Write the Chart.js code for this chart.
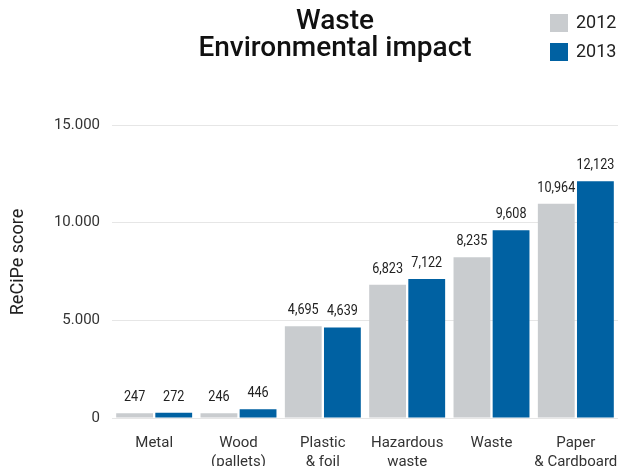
<!DOCTYPE html>
<html><head><meta charset="utf-8">
<script src="https://cdn.jsdelivr.net/npm/chart.js@4.4.1/dist/chart.umd.min.js"></script>
<style>html,body{margin:0;padding:0;background:#fff}#wrap{width:623px;height:466px}</style>
</head><body><div id="wrap"><canvas id="c" width="623" height="466"></canvas></div>
<script>
const categories = [['Metal'], ['Wood', '(pallets)'], ['Plastic', '& foil'], ['Hazardous', 'waste'], ['Waste'], ['Paper', '& Cardboard']];
const values2012 = [247, 246, 4695, 6823, 8235, 10964];
const values2013 = [272, 446, 4639, 7122, 9608, 12123];
const seriesNames = ['2012', '2013'];
const yTicks = [0, 5000, 10000, 15000];
const yTickLabels = ['0', '5.000', '10.000', '15.000'];
const titleLines = ['Waste', 'Environmental impact'];
const yTitle = 'ReCiPe score';

const GRAY = '#c9cccf', BLUE = '#0061a2';
const NUM_FONT = 'Roboto, sans-serif';

const decor = {
  id: 'decor',
  afterDatasetsDraw(chart) {
    const ctx = chart.ctx;
    chart.data.datasets.forEach((ds, i) => {
      chart.getDatasetMeta(i).data.forEach((el, j) => {
        ctx.save();
        ctx.font = '15px ' + NUM_FONT;
        ctx.fillStyle = '#222';
        ctx.textAlign = 'center';
        ctx.textBaseline = 'alphabetic';
        ctx.translate(el.x, el.y - 12);
        ctx.scale(0.84, 1);
        ctx.fillText(ds.data[j].toLocaleString('en-US'), 0, 0);
        ctx.restore();
      });
    });
  },
  afterDraw(chart) {
    const ctx = chart.ctx;
    ctx.save();
    ctx.fillStyle = '#111';
    ctx.font = '500 28px Roboto, sans-serif';
    ctx.textAlign = 'center';
    ctx.textBaseline = 'alphabetic';
    ctx.fillText(titleLines[0], 335, 29);
    ctx.fillText(titleLines[1], 335, 56);
    ctx.textAlign = 'left';
    ctx.font = '18px Roboto, sans-serif';
    chart.data.datasets.forEach((ds, i) => {
      const y = 14 + i * 29;
      ctx.fillStyle = ds.backgroundColor;
      ctx.fillRect(550, y, 18, 18);
      ctx.fillStyle = '#222';
      ctx.textBaseline = 'middle';
      ctx.fillText(ds.label, 576, y + 9.5);
    });
    ctx.translate(18, 262);
    ctx.rotate(-Math.PI / 2);
    ctx.textAlign = 'center';
    ctx.textBaseline = 'middle';
    ctx.font = '18px Roboto, sans-serif';
    ctx.fillStyle = '#222';
    ctx.fillText(yTitle, 0, 0);
    ctx.restore();
  }
};

new Chart(document.getElementById('c'), {
  type: 'bar',
  data: {
    labels: categories,
    datasets: [
      { label: seriesNames[0], data: values2012, backgroundColor: GRAY },
      { label: seriesNames[1], data: values2013, backgroundColor: BLUE }
    ]
  },
  options: {
    responsive: false,
    animation: false,
    devicePixelRatio: 1,
    layout: { padding: { top: 125, right: 5, left: 0, bottom: 0 } },
    categoryPercentage: 0.928,
    barPercentage: 0.941,
    plugins: { legend: { display: false }, title: { display: false }, tooltip: { enabled: false } },
    scales: {
      x: {
        grid: { display: false, drawTicks: false },
        border: { display: false },
        ticks: { color: '#333', font: { family: 'Roboto, sans-serif', size: 15, lineHeight: 1.3 }, padding: 15, maxRotation: 0, autoSkip: false },
        afterFit(s) { s.height = 48; s.paddingLeft = 0; s.paddingRight = 0; }
      },
      y: {
        min: 0, max: 15000,
        grid: { color: '#e6e6e6', lineWidth: 1, drawTicks: false },
        border: { display: false },
        afterBuildTicks(s) { s.ticks = yTicks.map(v => ({ value: v })); },
        ticks: {
          color: '#333', padding: 12,
          font: { family: NUM_FONT, size: 15 },
          callback: (v) => yTickLabels[yTicks.indexOf(v)]
        },
        afterFit(s) { s.width = 112; s.paddingTop = 0; s.paddingBottom = 0; }
      }
    }
  },
  plugins: [decor]
});
</script></body></html>
